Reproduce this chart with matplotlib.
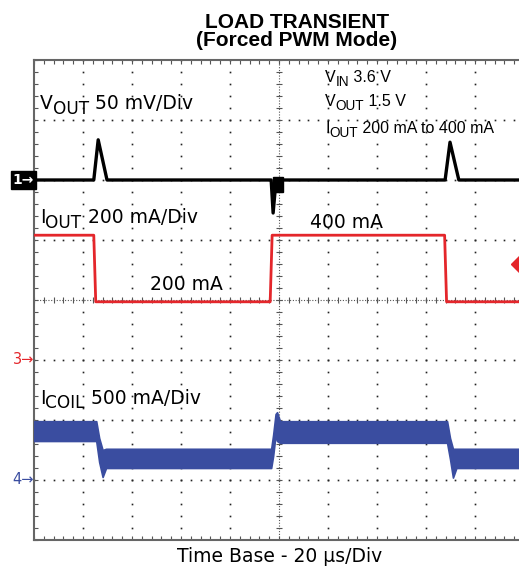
import matplotlib
matplotlib.use('Agg')
import matplotlib.pyplot as plt
import numpy as np
from matplotlib.patches import Rectangle

plt.rcParams['font.family'] = ['Liberation Sans', 'DejaVu Sans']

# traces, in scope divisions (x: 0..10, y: 0..8 from bottom)
vout_t = [0, 1.22, 1.31, 1.49, 4.84, 4.88, 4.94, 8.39, 8.49, 8.67, 10]
vout_v = [6.0, 6.0, 6.67, 6.0, 6.0, 5.45, 6.0, 6.0, 6.63, 6.0, 6.0]

iout_t = [0, 1.22, 1.26, 4.82, 4.86, 8.38, 8.42, 10]
iout_v = [5.08, 5.08, 3.97, 3.97, 5.08, 5.08, 3.97, 3.97]

coil_t  = [0, 1.27, 1.33, 1.40, 1.47, 4.84, 4.88, 4.93, 4.96, 5.02, 8.43, 8.49, 8.55, 8.62, 10]
coil_hi = [1.98, 1.98, 1.70, 1.50, 1.52, 1.52, 1.75, 2.10, 2.13, 1.98, 1.98, 1.70, 1.52, 1.52, 1.52]
coil_lo = [1.65, 1.65, 1.30, 1.05, 1.20, 1.20, 1.40, 1.75, 1.65, 1.62, 1.62, 1.35, 1.04, 1.20, 1.20]

red = '#e4262b'
blue = '#3a4da0'

W, H = 519, 571
fig = plt.figure(figsize=(W/100, H/100), dpi=100)
ax = fig.add_axes([34/W, (H-540)/H, 490/W, 480/H])
ax.set_xlim(0, 10)
ax.set_ylim(0, 8)
rend = fig.canvas.get_renderer()


def sub_text(x, y, main, sub, rest, fs, family, ratio=0.9, drop=4.5):
    # label with a large, dropped subscript like the scope annotations
    t1 = ax.text(x, y, main, fontsize=fs, family=family, va='baseline', zorder=6)
    w1 = t1.get_window_extent(rend).width * 72 / fig.dpi
    t2 = ax.annotate(sub, (x, y), xytext=(w1, -drop * 72 / fig.dpi), textcoords='offset points',
                     fontsize=fs * ratio, family=family, va='baseline', zorder=6)
    w2 = t2.get_window_extent(rend).width * 72 / fig.dpi
    ax.annotate(rest, (x, y), xytext=(w1 + w2, 0), textcoords='offset points',
                fontsize=fs, family=family, va='baseline', zorder=6)


# graticule
fine_x = np.arange(0, 10.01, 0.2)
fine_y = np.arange(0, 8.01, 0.2)
for gx in range(1, 10):
    if gx != 5:
        ax.plot([gx]*len(fine_y), fine_y, ls='none', marker='s', ms=1.2, mew=0, color='#222', zorder=1)
for gy in range(1, 8):
    if gy != 4:
        ax.plot(fine_x, [gy]*len(fine_x), ls='none', marker='s', ms=1.2, mew=0, color='#222', zorder=1)
ax.axvline(5, ls=(0, (1, 1.5)), lw=0.8, color='#555', zorder=1)
ax.axhline(4, ls=(0, (1, 1.5)), lw=0.8, color='#555', zorder=1)
ax.plot([5]*len(fine_y), fine_y, ls='none', marker='_', ms=5, mew=0.8, color='#555', zorder=1)
ax.plot(fine_x, [4]*len(fine_x), ls='none', marker='|', ms=5, mew=0.8, color='#555', zorder=1)

ax.set_xticks(fine_x)
ax.set_yticks(fine_y)
ax.set_xticklabels([])
ax.set_yticklabels([])
ax.tick_params(direction='in', length=3, width=0.8, color='#555', top=True, bottom=True, left=True, right=False)
for s in ['left', 'top', 'bottom']:
    ax.spines[s].set_color('#666')
    ax.spines[s].set_linewidth(1.5)
ax.spines['right'].set_visible(False)

# traces
ax.fill_between(coil_t, coil_lo, coil_hi, color=blue, lw=1.2, ec=blue, zorder=3)
ax.plot(iout_t, iout_v, color=red, lw=2, zorder=4)
ax.plot(vout_t, vout_v, color='black', lw=2.4, zorder=4)
ax.add_patch(Rectangle((4.88, 5.8), 0.2, 0.25, fc='black', ec='black', zorder=5))
ax.plot(9.9, 4.6, marker='D', ms=8, color=red, clip_on=False, zorder=5)

# channel markers
ax.text(-0.22, 6.0, '1\u2192', color='white', fontsize=10, fontweight='bold', family='DejaVu Sans',
        ha='center', va='center', bbox=dict(boxstyle='square,pad=0.12', fc='black', ec='black'), clip_on=False)
ax.text(-0.22, 3.0, '3\u2192', color=red, fontsize=10.5, family='DejaVu Sans', ha='center', va='center', clip_on=False)
ax.text(-0.22, 1.0, '4\u2192', color=blue, fontsize=10.5, family='DejaVu Sans', ha='center', va='center', clip_on=False)

# labels on screen
big = 13.5
sub_text(0.12, 7.18, 'V', 'OUT', ' 50 mV/Div', big, 'DejaVu Sans')
sub_text(0.12, 5.28, 'I', 'OUT', ' 200 mA/Div', big, 'DejaVu Sans')
sub_text(0.12, 2.27, 'I', 'COIL', ' 500 mA/Div', big, 'DejaVu Sans')
ax.text(2.37, 4.17, '200 mA', fontsize=big, family='DejaVu Sans', va='baseline', zorder=6)
ax.text(5.63, 5.20, '400 mA', fontsize=big, family='DejaVu Sans', va='baseline', zorder=6)

small = 11.5
sub_text(5.94, 7.64, 'V', 'IN', ' 3.6 V', small, 'Liberation Sans', ratio=0.85, drop=4)
sub_text(5.94, 7.23, 'V', 'OUT', ' 1.5 V', small, 'Liberation Sans', ratio=0.85, drop=4)
sub_text(5.94, 6.78, 'I', 'OUT', ' 200 mA to 400 mA', small, 'Liberation Sans', ratio=0.85, drop=4)

fig.text(297/W, 1 - 28/H, 'LOAD TRANSIENT', fontsize=15, fontweight='bold', ha='center', va='baseline')
fig.text(297/W, 1 - 46/H, '(Forced PWM Mode)', fontsize=15, fontweight='bold', ha='center', va='baseline')
fig.text(280/W, 1 - 562/H, 'Time Base - 20 \u03bcs/Div', fontsize=13.5, family='DejaVu Sans',
         ha='center', va='baseline')

fig.savefig('out.png', dpi=100)
